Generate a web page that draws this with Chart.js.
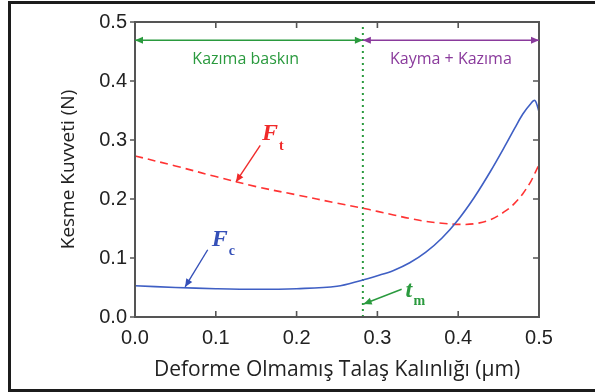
<!DOCTYPE html>
<html>
<head>
<meta charset="utf-8">
<script src="https://cdn.jsdelivr.net/npm/chart.js@4/dist/chart.umd.min.js"></script>
<style>
  body { margin: 0; background: #fff; }
  #wrap { position: relative; width: 595px; height: 392px; overflow: hidden; }
  #chart { position: absolute; left: 0; top: 0; }
  #frame { position: absolute; left: 8px; top: 1px; width: 620px; height: 391px;
           border: 3px solid #1c1c1c; box-sizing: border-box; }
</style>
</head>
<body>
<div id="wrap">
  <canvas id="chart" width="595" height="392"></canvas>
  <div id="frame"></div>
</div>
<script>
// chip thickness (µm)
const thickness = [0, 0.05, 0.1, 0.15, 0.2, 0.25, 0.28, 0.3, 0.32, 0.34, 0.36, 0.38, 0.4, 0.42, 0.44, 0.46, 0.47, 0.48, 0.49, 0.495, 0.5];
// cutting force Fc (N)
const fcValues = [0.053, 0.050, 0.048, 0.047, 0.048, 0.052, 0.062, 0.070, 0.079, 0.092, 0.110, 0.134, 0.165, 0.203, 0.247, 0.295, 0.320, 0.344, 0.362, 0.367, 0.348];
// thrust force Ft (N)
const ftValues = [0.273, 0.256, 0.238, 0.221, 0.207, 0.193, 0.185, 0.179, 0.173, 0.167, 0.162, 0.159, 0.157, 0.158, 0.165, 0.181, 0.193, 0.209, 0.230, 0.244, 0.258];

const xTicks = [0, 0.1, 0.2, 0.3, 0.4, 0.5];
const yTicks = [0, 0.1, 0.2, 0.3, 0.4, 0.5];

// minimum chip thickness and regime bands
const tmValue = 0.282;
const bandY = 0.469;
const bandLabels = ['Kazıma baskın', 'Kayma + Kazıma'];
const bandLabelPos = [[0.137, 0.436], [0.391, 0.436]];

// pointer labels: [text, subscript, color, label x/y, subscript x/y, arrow from, arrow to]
const pointers = [
  ['F', 't', '#f02a2a', [0.167, 0.310], [0.181, 0.289], [0.155, 0.291], [0.125, 0.229]],
  ['F', 'c', '#3550b8', [0.105, 0.131], [0.120, 0.112], [0.090, 0.114], [0.062, 0.051]],
  ['t', 'm', '#2a9a3e', [0.339, 0.044], [0.352, 0.026], [0.330, 0.047], [0.283, 0.022]]
];

const fcData = thickness.map((x, i) => ({ x: x, y: fcValues[i] }));
const ftData = thickness.map((x, i) => ({ x: x, y: ftValues[i] }));
const tmLine = [{ x: tmValue, y: 0 }, { x: tmValue, y: 0.5 }];

function arrowHead(ctx, x1, y1, x2, y2, len, half) {
  const a = Math.atan2(y2 - y1, x2 - x1);
  ctx.beginPath();
  ctx.moveTo(x2, y2);
  ctx.lineTo(x2 - len * Math.cos(a) + half * Math.sin(a), y2 - len * Math.sin(a) - half * Math.cos(a));
  ctx.lineTo(x2 - len * Math.cos(a) - half * Math.sin(a), y2 - len * Math.sin(a) + half * Math.cos(a));
  ctx.closePath();
  ctx.fill();
}

function arrow(ctx, x1, y1, x2, y2, color, heads) {
  ctx.strokeStyle = color;
  ctx.fillStyle = color;
  ctx.lineWidth = 1.4;
  ctx.setLineDash([]);
  ctx.beginPath();
  ctx.moveTo(x1, y1);
  ctx.lineTo(x2, y2);
  ctx.stroke();
  arrowHead(ctx, x1, y1, x2, y2, 8, 3.5);
  if (heads === 2) arrowHead(ctx, x2, y2, x1, y1, 8, 3.5);
}

const decorations = {
  id: 'decorations',
  afterDatasetsDraw(chart) {
    const ctx = chart.ctx;
    const xs = chart.scales.x;
    const ys = chart.scales.y;
    const area = chart.chartArea;
    const px = v => xs.getPixelForValue(v);
    const py = v => ys.getPixelForValue(v);
    ctx.save();

    // axis box
    ctx.strokeStyle = '#555';
    ctx.lineWidth = 2;
    ctx.setLineDash([]);
    ctx.strokeRect(area.left, area.top, area.right - area.left, area.bottom - area.top);

    // tick marks
    ctx.lineWidth = 1.6;
    ctx.beginPath();
    xTicks.forEach(v => {
      ctx.moveTo(px(v), area.bottom); ctx.lineTo(px(v), area.bottom - 6);
      ctx.moveTo(px(v), area.top); ctx.lineTo(px(v), area.top + 6);
    });
    yTicks.forEach(v => {
      ctx.moveTo(area.left, py(v)); ctx.lineTo(area.left - 5, py(v));
      ctx.moveTo(area.right, py(v)); ctx.lineTo(area.right - 6, py(v));
    });
    ctx.stroke();

    // regime arrows
    arrow(ctx, px(tmValue), py(bandY), px(0), py(bandY), '#2a9a3e', 2);
    arrow(ctx, px(tmValue), py(bandY), px(0.5), py(bandY), '#8a3a9c', 2);

    ctx.font = '16px "Open Sans"';
    ctx.textAlign = 'center';
    ctx.textBaseline = 'middle';
    ctx.fillStyle = '#2a9a3e';
    ctx.fillText(bandLabels[0], px(bandLabelPos[0][0]), py(bandLabelPos[0][1]));
    ctx.fillStyle = '#8a3a9c';
    ctx.fillText(bandLabels[1], px(bandLabelPos[1][0]), py(bandLabelPos[1][1]));

    // pointer labels
    pointers.forEach(p => {
      const [txt, sub, color, lab, subPos, from, to] = p;
      arrow(ctx, px(from[0]), py(from[1]), px(to[0]), py(to[1]), color, 1);
      ctx.fillStyle = color;
      ctx.font = 'italic bold 24px "Liberation Serif"';
      ctx.fillText(txt, px(lab[0]), py(lab[1]));
      ctx.font = 'bold 14px "Liberation Serif"';
      ctx.fillText(sub, px(subPos[0]), py(subPos[1]));
    });
    ctx.restore();
  }
};

new Chart(document.getElementById('chart'), {
  type: 'line',
  data: {
    datasets: [
      {
        label: 'Fc',
        data: fcData,
        borderColor: '#3f5fc4',
        borderWidth: 1.6,
        pointRadius: 0,
        tension: 0.35,
        fill: false
      },
      {
        label: 'Ft',
        data: ftData,
        borderColor: '#ff3333',
        borderWidth: 1.6,
        borderDash: [8, 5],
        pointRadius: 0,
        tension: 0.35,
        fill: false
      },
      {
        label: 'tm',
        data: tmLine,
        borderColor: '#2a9a3e',
        borderWidth: 2,
        borderDash: [2, 4],
        pointRadius: 0,
        fill: false
      }
    ]
  },
  options: {
    responsive: false,
    animation: false,
    devicePixelRatio: 1,
    layout: { padding: { top: 22, right: 56, left: 0, bottom: 0 } },
    plugins: {
      legend: { display: false },
      tooltip: { enabled: false }
    },
    scales: {
      x: {
        type: 'linear',
        min: 0,
        max: 0.5,
        grid: { display: false, drawTicks: false },
        border: { display: false },
        ticks: {
          stepSize: 0.1,
          padding: 9,
          color: '#222',
          font: { family: '"Liberation Sans"', size: 20 },
          callback: v => v.toFixed(1)
        },
        title: {
          display: true,
          text: 'Deforme Olmamış Talaş Kalınlığı (µm)',
          color: '#222',
          font: { family: '"Open Sans"', size: 21 },
          padding: { top: 0, bottom: 9 }
        },
        afterFit: s => { s.height = 75; }
      },
      y: {
        min: 0,
        max: 0.5,
        grid: { display: false, drawTicks: false },
        border: { display: false },
        ticks: {
          stepSize: 0.1,
          padding: 8,
          color: '#222',
          font: { family: '"Liberation Sans"', size: 20 },
          callback: v => v.toFixed(1)
        },
        title: {
          display: true,
          text: 'Kesme Kuvveti (N)',
          color: '#222',
          font: { family: '"Open Sans"', size: 19 },
          padding: { top: 57, bottom: 0 }
        },
        afterFit: s => { s.width = 135; }
      }
    }
  },
  plugins: [decorations]
});
</script>
</body>
</html>
